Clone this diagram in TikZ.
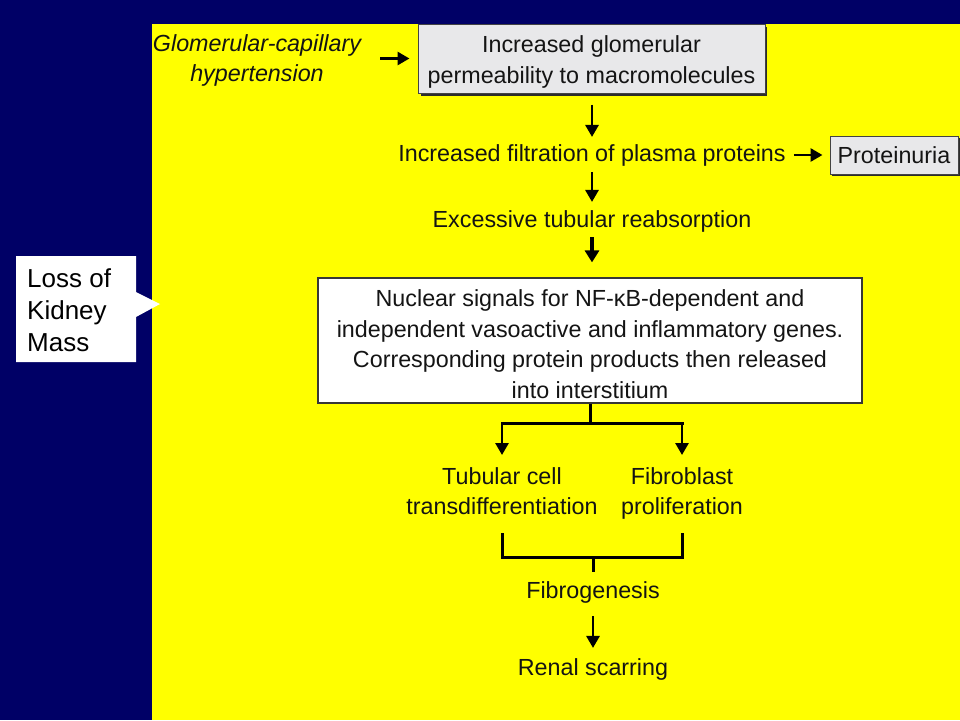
\documentclass[tikz,border=0pt]{standalone}
\usepackage{fontspec}
\setmainfont{Liberation Sans}
\usetikzlibrary{arrows.meta}
\definecolor{navybg}{RGB}{0,0,102}
\definecolor{slideyellow}{RGB}{255,255,0}
\definecolor{boxgrey}{RGB}{232,232,234}
\definecolor{inkdark}{RGB}{20,20,20}
\tikzset{
  txt/.style={inner sep=0pt, text=inkdark, font=\fontsize{23.3}{30.5}\selectfont, align=center},
  greybox/.style={draw=inkdark!80, line width=1pt, fill=boxgrey, inner sep=0pt},
  whitebox/.style={draw=inkdark!85, line width=1.2pt, fill=white, inner sep=0pt},
  arr/.style={line width=2.8pt, -{Triangle[width=13pt,length=12pt]}, draw=black},
  arrbig/.style={line width=4pt, -{Triangle[width=14pt,length=12pt]}, draw=black},
  bar/.style={line width=3pt, draw=black},
}
\begin{document}
\begin{tikzpicture}[x=1pt,y=-1pt]
\useasboundingbox (0,0) rectangle (960,720);
\fill[navybg] (0,0) rectangle (960,720);
\fill[slideyellow] (152,24) rectangle (960,720);

% callout
\fill[white] (16,256) -- (136,256) -- (136,292) -- (160,304) -- (136,317) -- (136,362) -- (16,362) -- cycle;
\node[inner sep=0pt, anchor=north west, align=left, font=\fontsize{26}{32}\selectfont, text=black] (loss) at (27,268) {Loss of\\Kidney\\Mass};

% top row
\node[txt, anchor=north, font=\fontsize{23.3}{30.5}\selectfont\itshape] (hyp) at (257,34) {Glomerular-capillary\\hypertension};
\fill[inkdark!90] (420.5,26.5) rectangle (767,95.5);
\node[greybox, minimum width=347pt, minimum height=69pt] (box1) at (591.5,58.5) {};
\node[txt] (box1text) at ([yshift=-3.5pt]box1.center) {Increased glomerular\\permeability to macromolecules};
\draw[arr, shorten <=19pt, shorten >=8pt] (hyp.east |- box1.west) -- (box1.west);

\node[txt] (filt) at (592,155) {Increased filtration of plasma proteins};
\fill[inkdark!90] (831.5,137.5) rectangle (960,176);
\node[greybox, minimum width=128pt, minimum height=38pt] (prot) at (894,155.5) {};
\node[txt] (prottext) at (prot.center) {Proteinuria};
\draw[arr, shorten <=8pt, shorten >=7pt] (filt.east) -- (filt.east -| prot.west);

\node[txt] (exc) at (592,221) {Excessive tubular reabsorption};

\draw[arr, shorten <=11pt, shorten >=7pt] (box1.south -| filt.north) -- (filt.north);
\draw[arr, shorten <=6pt, shorten >=8pt] (filt.south) -- (filt.south |- exc.north);

\node[whitebox, minimum width=544pt, minimum height=125pt] (big) at (590,340.5) {};
\node[txt] (bigtext) at ([yshift=-3.5pt]big.center)
  {Nuclear signals for NF-κB-dependent and\\independent vasoactive and inflammatory genes.\\Corresponding protein products then released\\into interstitium};
\draw[arrbig, shorten <=5pt, shorten >=15pt] (exc.south) -- (exc.south |- big.north);

% branch
\node[txt, anchor=north] (tub) at (502,467) {Tubular cell\\transdifferentiation};
\node[txt, anchor=north] (fib) at (682,467) {Fibroblast\\proliferation};
\coordinate (split) at (590,423);
\draw[bar] (big.south) -- (split);
\draw[bar, line cap=rect] (split -| tub.north) -- (split -| fib.north);
\draw[arr, shorten >=12pt] (split -| tub.north) -- (tub.north);
\draw[arr, shorten >=12pt] (split -| fib.north) -- (fib.north);

% bracket
\node[txt] (fibro) at (593,592) {Fibrogenesis};
\coordinate (btop) at (0,533);
\coordinate (bbot) at (0,557);
\draw[bar] (btop -| tub.south) -- (bbot -| tub.south) -- (bbot -| fib.south) -- (btop -| fib.south);
\draw[bar, shorten >=9pt] (bbot -| fibro.north) -- (fibro.north);

\node[txt] (renal) at (593,669) {Renal scarring};
\draw[arr, shorten <=13pt, shorten >=10pt] (fibro.south) -- (fibro.south |- renal.north);
\end{tikzpicture}
\end{document}
